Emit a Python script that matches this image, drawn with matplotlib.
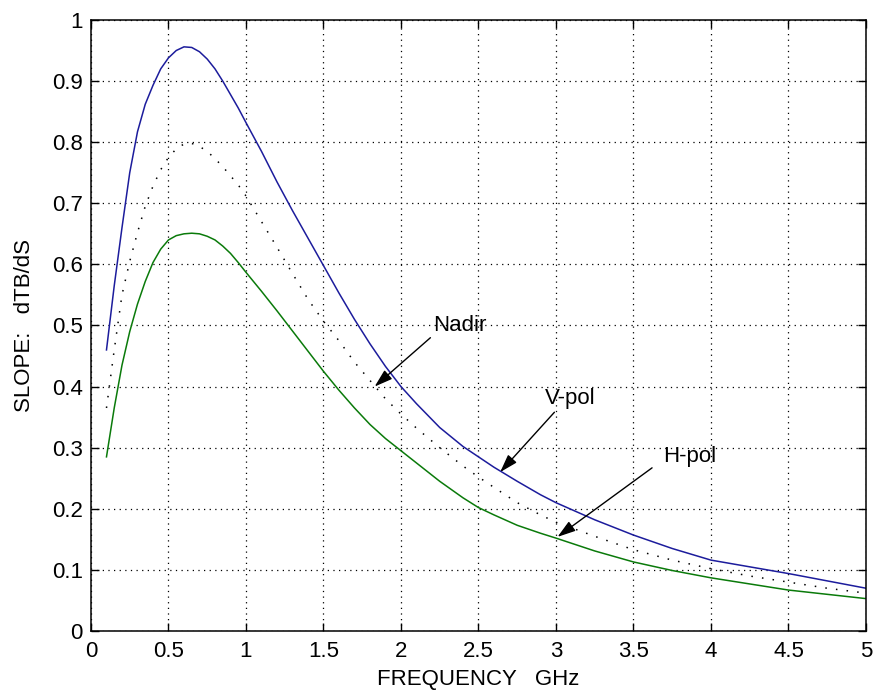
import matplotlib
matplotlib.use("Agg")
import matplotlib.pyplot as plt

# values
freq = [0.1, 0.15, 0.2, 0.25, 0.3, 0.35, 0.4, 0.45, 0.5, 0.55, 0.6, 0.65, 0.7, 0.75,
        0.8, 0.85, 0.9, 0.95, 1.0, 1.1, 1.2, 1.3, 1.4, 1.5, 1.6, 1.7, 1.8, 1.9, 2.0,
        2.1, 2.25, 2.4, 2.5, 2.6, 2.75, 2.9, 3.0, 3.25, 3.5, 3.75, 4.0, 4.25, 4.5,
        4.75, 5.0]
v_pol = [0.46, 0.565, 0.66, 0.75, 0.817, 0.862, 0.893, 0.92, 0.938, 0.95, 0.956, 0.955,
         0.948, 0.936, 0.92, 0.9, 0.878, 0.856, 0.832, 0.785, 0.735, 0.688, 0.643, 0.598,
         0.553, 0.51, 0.47, 0.433, 0.40, 0.372, 0.333, 0.302, 0.285, 0.268, 0.245, 0.223,
         0.21, 0.182, 0.157, 0.135, 0.116, 0.105, 0.094, 0.082, 0.07]
nadir = [0.365, 0.46, 0.55, 0.605, 0.652, 0.695, 0.728, 0.755, 0.775, 0.789, 0.797, 0.798,
         0.793, 0.785, 0.773, 0.76, 0.745, 0.73, 0.712, 0.67, 0.628, 0.585, 0.543, 0.507,
         0.475, 0.44, 0.41, 0.38, 0.355, 0.332, 0.30, 0.27, 0.252, 0.235, 0.21, 0.19,
         0.178, 0.155, 0.133, 0.116, 0.102, 0.09, 0.08, 0.07, 0.062]
h_pol = [0.285, 0.365, 0.435, 0.49, 0.535, 0.572, 0.603, 0.625, 0.64, 0.647, 0.65, 0.651,
         0.65, 0.646, 0.64, 0.63, 0.618, 0.603, 0.587, 0.556, 0.524, 0.491, 0.458, 0.425,
         0.394, 0.365, 0.338, 0.315, 0.295, 0.275, 0.245, 0.218, 0.202, 0.19, 0.173, 0.16,
         0.152, 0.131, 0.113, 0.099, 0.087, 0.077, 0.067, 0.06, 0.053]

x_ticks = [0, 0.5, 1, 1.5, 2, 2.5, 3, 3.5, 4, 4.5, 5]
x_labels = ["0", "0.5", "1", "1.5", "2", "2.5", "3", "3.5", "4", "4.5", "5"]
y_ticks = [0, 0.1, 0.2, 0.3, 0.4, 0.5, 0.6, 0.7, 0.8, 0.9, 1]
y_labels = ["0", "0.1", "0.2", "0.3", "0.4", "0.5", "0.6", "0.7", "0.8", "0.9", "1"]

# annotation labels: (text, text position, arrow tail, arrow tip)
notes = [
    ("Nadir", (2.21, 0.50), (2.19, 0.48), (1.83, 0.40)),
    ("V-pol", (2.93, 0.381), (2.99, 0.358), (2.64, 0.26)),
    ("H-pol", (3.69, 0.285), (3.62, 0.267), (3.01, 0.154)),
]

plt.rcParams['font.family'] = ['Liberation Sans', 'DejaVu Sans']
fs = 16

fig = plt.figure(figsize=(8.74, 6.98), dpi=100)
ax = fig.add_axes([0.1041, 0.096, 0.8867, 0.8754])

ax.plot(freq, v_pol, color='#1c1c9c', lw=1.1)
ax.plot(freq, nadir, color='black', lw=1.1, linestyle=(0, (1, 6)))
ax.plot(freq, h_pol, color='#0a7a0a', lw=1.1)

ax.set_xlim(0, 5)
ax.set_ylim(0, 1)
ax.set_xticks(x_ticks)
ax.set_xticklabels(x_labels)
ax.set_yticks(y_ticks)
ax.set_yticklabels(y_labels)
ax.tick_params(direction='in', length=6, width=1, top=True, right=True,
               labelsize=fs, colors='black')
ax.tick_params(axis='x', pad=7)
ax.tick_params(axis='y', pad=6)
ax.grid(True, color='black', lw=0.9, linestyle=(0, (1, 3.5)))
for sp in ax.spines.values():
    sp.set_linewidth(1.1)

ax.set_xlabel("FREQUENCY   GHz", fontsize=fs, labelpad=5)
ax.set_ylabel("SLOPE:   dTB/dS", fontsize=fs, labelpad=12)

for txt, tpos, tail, tip in notes:
    ax.text(tpos[0], tpos[1], txt, fontsize=fs, ha='left', va='center')
    ax.annotate("", xy=tip, xytext=tail,
                arrowprops=dict(arrowstyle='-|>,head_length=1.1,head_width=0.35',
                                color='black', lw=1.0, shrinkA=0, shrinkB=0))

fig.savefig("out.png", dpi=100, facecolor='white')
